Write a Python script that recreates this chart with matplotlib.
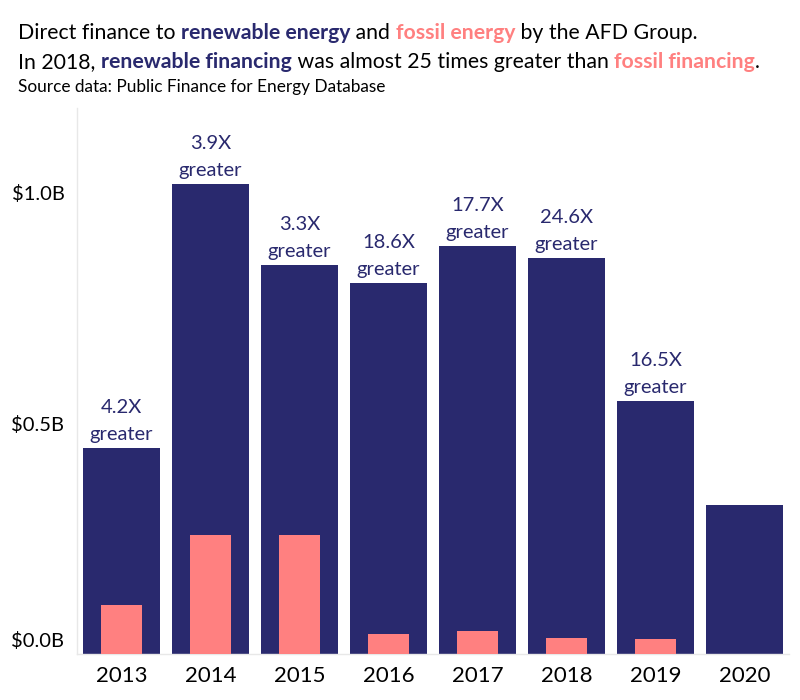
import matplotlib
matplotlib.use("Agg")
import matplotlib.pyplot as plt
import matplotlib.transforms as mtransforms

years = ["2013", "2014", "2015", "2016", "2017", "2018", "2019", "2020"]
renewable = [0.446, 1.017, 0.842, 0.803, 0.883, 0.857, 0.548, 0.323]  # $B
fossil = [0.106, 0.258, 0.258, 0.043, 0.050, 0.035, 0.033, 0.0]  # $B
ratio_labels = ["4.2X", "3.9X", "3.3X", "18.6X", "17.7X", "24.6X", "16.5X", None]
yticks = [0.0, 0.5, 1.0]
ytick_labels = ["$0.0B", "$0.5B", "$1.0B"]

NAVY = "#29296e"
PINK = "#ff8080"
FONT = "Lato"

plt.rcParams["font.family"] = [FONT, "DejaVu Sans"]

W, H = 800, 700
fig = plt.figure(figsize=(W / 100, H / 100), dpi=100)
ax = fig.add_axes([77 / W, (H - 654) / H, (789 - 77) / W, (654 - 108) / H])

x = list(range(len(years)))
ax.bar(x, renewable, width=0.862, color=NAVY, zorder=2)
ax.bar(x, fossil, width=0.45, color=PINK, zorder=3)

for xi, val, lab in zip(x, renewable, ratio_labels):
    if lab:
        ax.annotate(f"{lab}\ngreater", (xi, val), xytext=(0, 3.5), textcoords="offset points",
                    ha="center", va="bottom", fontsize=14.5, color=NAVY, linespacing=1.75)

ax.set_xlim(-0.5, len(years) - 0.5)
ax.set_ylim(0, 1.182)
ax.set_xticks(x)
ax.set_xticklabels(years, fontsize=16)
ax.set_yticks(yticks)
ax.set_yticklabels(ytick_labels, fontsize=14.5)
ax.tick_params(axis="both", length=0, colors="black")
ax.tick_params(axis="x", pad=9)
ax.tick_params(axis="y", pad=9)
lab0 = ax.get_yticklabels()[0]
lab0.set_verticalalignment("bottom")
lab0.set_transform(lab0.get_transform() + mtransforms.ScaledTranslation(0, 3 / 72, fig.dpi_scale_trans))
for s in ["top", "right"]:
    ax.spines[s].set_visible(False)
for s in ["left", "bottom"]:
    ax.spines[s].set_color("#e8e8e8")
    ax.spines[s].set_linewidth(1)

renderer = fig.canvas.get_renderer()


def rich_line(segments, x0_px, baseline_px, size):
    xpos = x0_px
    for txt, color, weight in segments:
        t = fig.text(xpos / W, 1 - baseline_px / H, txt, color=color, fontsize=size,
                     fontweight=weight, ha="left", va="baseline")
        bb = t.get_window_extent(renderer=renderer)
        xpos += bb.width


TS = 15.3
rich_line([("Direct finance to ", "black", "normal"),
           ("renewable energy", NAVY, "bold"),
           (" and ", "black", "normal"),
           ("fossil energy", PINK, "bold"),
           (" by the AFD Group.", "black", "normal")], 18, 39, TS)
rich_line([("In 2018, ", "black", "normal"),
           ("renewable financing", NAVY, "bold"),
           (" was almost 25 times greater than ", "black", "normal"),
           ("fossil financing", PINK, "bold"),
           (".", "black", "normal")], 18, 68, TS)
rich_line([("Source data: Public Finance for Energy Database", "black", "normal")], 18, 92, 12.4)

fig.savefig("out.png", dpi=100)
